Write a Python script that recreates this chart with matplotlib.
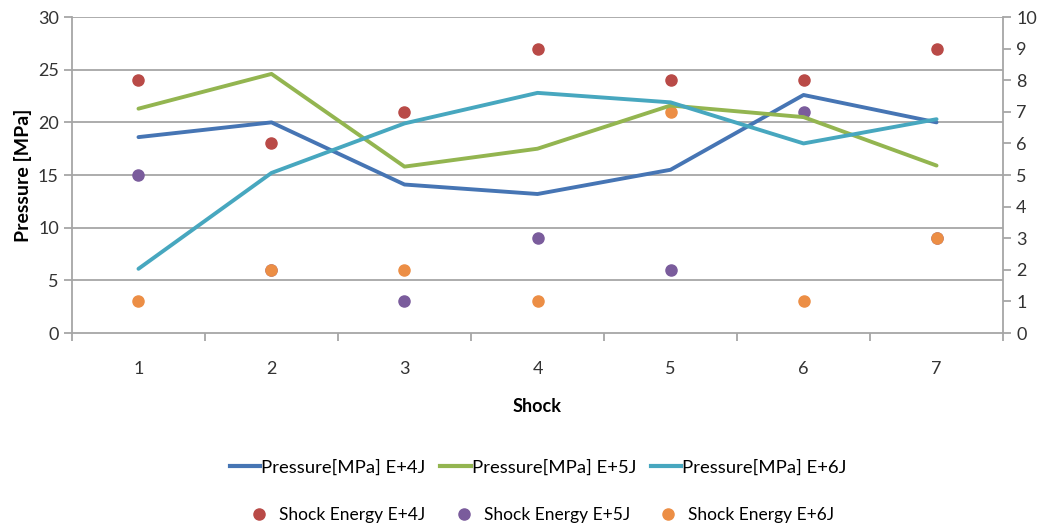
import numpy as np
import matplotlib.pyplot as plt
from matplotlib.lines import Line2D

plt.rcParams['font.family'] = ['Lato', 'DejaVu Sans']

shocks = [1, 2, 3, 4, 5, 6, 7]

# pressure per shock [MPa]
pressure_4j = [18.6, 20.0, 14.1, 13.2, 15.5, 22.6, 20.0]
pressure_5j = [21.3, 24.6, 15.8, 17.5, 21.6, 20.5, 15.9]
pressure_6j = [6.1, 15.2, 19.9, 22.8, 21.9, 18.0, 20.3]

# shock energy (right axis)
energy_4j = [8, 6, 7, 9, 8, 8, 9]
energy_5j = [5, 2, 1, 3, 2, 7, 3]
energy_6j = [1, 2, 2, 1, 7, 1, 3]

c_blue, c_green, c_cyan = '#4675B4', '#93B550', '#47A7BF'
c_red, c_purple, c_orange = '#B94A47', '#7A5C9C', '#EC8E45'
grid_c = '#A6A6A6'

fig = plt.figure(figsize=(10.43, 5.27), dpi=100)
ax = fig.add_axes([0.069, 0.368, 0.8927, 0.5997])
ax2 = ax.twinx()

ax.set_zorder(ax2.get_zorder() + 1)
ax.patch.set_visible(False)

ax2.plot(shocks, energy_4j, 'o', color=c_red, ms=8, zorder=2)
ax2.plot(shocks, energy_5j, 'o', color=c_purple, ms=8, zorder=2)
ax2.plot(shocks, energy_6j, 'o', color=c_orange, ms=8, zorder=2)

ax.plot(shocks, pressure_4j, color=c_blue, lw=2.8, solid_capstyle='round')
ax.plot(shocks, pressure_5j, color=c_green, lw=2.8, solid_capstyle='round')
ax.plot(shocks, pressure_6j, color=c_cyan, lw=2.8, solid_capstyle='round')

ax.set_xlim(0.5, 7.5)
ax.set_ylim(0, 30)
ax2.set_ylim(0, 10)
ax.set_yticks(np.arange(0, 31, 5))
ax2.set_yticks(np.arange(0, 11, 1))
ax.set_xticks(shocks)
ax.set_xticks(np.arange(0.5, 7.6, 1), minor=True)

ax2.grid(False)
for y in np.arange(5, 31, 5):
    ax2.axhline(y / 3, color=grid_c, lw=1.3, zorder=0)

for a in (ax, ax2):
    for s in a.spines.values():
        s.set_visible(False)
ax.spines['left'].set_visible(True)
ax.spines['bottom'].set_visible(True)
ax2.spines['right'].set_visible(True)
for s in ('left', 'bottom'):
    ax.spines[s].set_color(grid_c)
    ax.spines[s].set_linewidth(1.3)
ax2.spines['right'].set_color(grid_c)
ax2.spines['right'].set_linewidth(1.3)

ax.tick_params(axis='x', which='major', length=0, pad=20, labelsize=13, colors='#333333')
ax.tick_params(axis='x', which='minor', length=6, color=grid_c, width=1.3)
ax.tick_params(axis='y', length=6, color=grid_c, width=1.3, labelsize=13, labelcolor='#333333')
ax2.tick_params(axis='y', length=6, color=grid_c, width=1.3, labelsize=13, labelcolor='#333333')

ax.set_ylabel('Pressure [MPa]', fontsize=14, fontweight='bold', labelpad=4)
ax.set_xlabel('Shock', fontsize=13, fontweight='bold', labelpad=15)

line_handles = [Line2D([], [], color=c, lw=3) for c in (c_blue, c_green, c_cyan)]
line_labels = ['Pressure[MPa] E+4J', 'Pressure[MPa] E+5J', 'Pressure[MPa] E+6J']
dot_handles = [Line2D([], [], ls='none', marker='o', color=c, ms=8) for c in (c_red, c_purple, c_orange)]
dot_labels = ['Shock Energy E+4J', 'Shock Energy E+5J', 'Shock Energy E+6J']

leg1 = fig.legend(line_handles, line_labels, ncol=3, loc='center', bbox_to_anchor=(0.516, 0.113),
                  frameon=False, fontsize=13.3, handlelength=1.65, handletextpad=0.05, columnspacing=0.8)
leg2 = fig.legend(dot_handles, dot_labels, ncol=3, loc='center', bbox_to_anchor=(0.518, 0.022),
                  frameon=False, fontsize=12.5, handlelength=1.5, handletextpad=0.4, columnspacing=1.45)

fig.savefig('out.png', dpi=100)
